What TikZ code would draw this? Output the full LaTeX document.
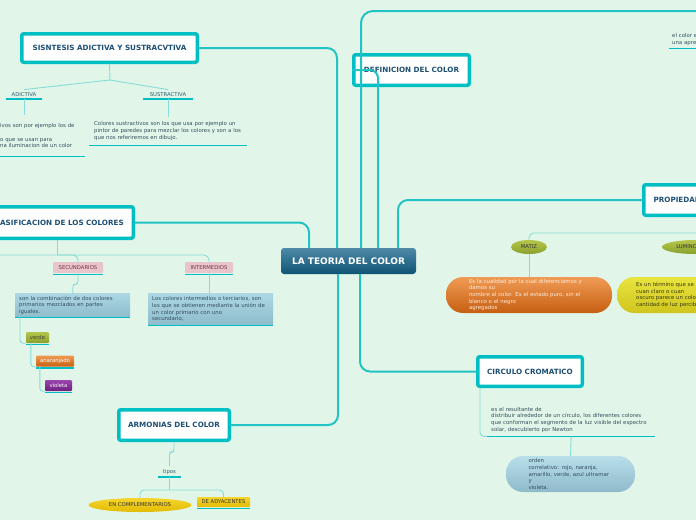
\documentclass[tikz,border=0pt]{standalone}
\usepackage{fontspec}
\setmainfont{DejaVu Sans}
\usetikzlibrary{shapes.geometric}

\definecolor{bgmint}{HTML}{E1F6E8}
\definecolor{mapteal}{HTML}{00BFC4}
\definecolor{trunkteal}{HTML}{22C3C5}
\definecolor{twigteal}{HTML}{86DCD8}
\definecolor{titleblue}{HTML}{1D4E74}
\definecolor{labelblue}{HTML}{2E5C70}
\definecolor{notegray}{HTML}{34505F}
\definecolor{roottop}{HTML}{4E8AA8}
\definecolor{rootbot}{HTML}{0E5475}
\definecolor{boxtop}{HTML}{ADD8E4}
\definecolor{boxbot}{HTML}{8EBCCB}
\definecolor{pinkbox}{HTML}{E8C4CB}
\definecolor{pinktext}{HTML}{7A3445}
\definecolor{olivetop}{HTML}{B5C64A}
\definecolor{olivebot}{HTML}{8AA12E}
\definecolor{orangetop}{HTML}{F09B55}
\definecolor{orangebot}{HTML}{C65F12}
\definecolor{orangetext}{HTML}{FCEBDB}
\definecolor{yellowtop}{HTML}{E9E43F}
\definecolor{yellowbot}{HTML}{CFC51E}
\definecolor{yellowtext}{HTML}{3A3A12}
\definecolor{goldtop}{HTML}{F6D42A}
\definecolor{goldbot}{HTML}{E2BC05}
\definecolor{violettop}{HTML}{9B45AE}
\definecolor{violetbot}{HTML}{6E1F80}
\definecolor{pilltop}{HTML}{B8DEEA}
\definecolor{pillbot}{HTML}{8FBACA}

\newcommand{\rootfont}{\bfseries\fontsize{9}{10}\selectfont}
\newcommand{\topicfont}{\bfseries\fontsize{7.2}{8}\selectfont}
\newcommand{\notefont}{\fontsize{5.4}{6.7}\selectfont}
\newcommand{\tagfont}{\fontsize{5.3}{6}\selectfont}

\begin{document}
\begin{tikzpicture}[x=1pt,y=-1pt,
    central/.style={rectangle, rounded corners=3pt, minimum width=135, minimum height=26, top color=roottop, bottom color=rootbot, text=white, font=\rootfont, inner sep=0pt},
    topic/.style={rectangle, draw=mapteal, line width=3.5pt, fill=white, rounded corners=2pt, text=titleblue, font=\topicfont, inner sep=0pt},
    trunk/.style={draw=trunkteal, line width=2pt},
    twig/.style={draw=twigteal, line width=0.9pt},
    uline/.style={append after command={(\tikzlastnode.south west) edge[draw=mapteal, line width=1.8pt] (\tikzlastnode.south east)}},
    ulinelow/.style={append after command={([yshift=-1.3pt]\tikzlastnode.south west) edge[draw=mapteal, line width=1.6pt] ([yshift=-1.3pt]\tikzlastnode.south east)}},
    lbl/.style={anchor=south, font=\tagfont, text=labelblue, inner xsep=0pt, inner ysep=2.5pt, uline},
    tag/.style={rectangle, rounded corners=1pt, minimum height=11, inner xsep=2pt, inner ysep=0pt, font=\tagfont, ulinelow},
    note/.style={anchor=north west, align=left, inner xsep=0pt, inner ysep=0pt, font=\notefont, text=notegray, uline},
    infobox/.style={anchor=north west, align=left, top color=boxtop, bottom color=boxbot, inner xsep=4pt, inner ysep=2pt, font=\notefont, text=notegray, uline},
    pill/.style={rectangle, rounded corners=17pt, minimum height=36, inner ysep=1pt, align=left, font=\notefont},
    bubble/.style={ellipse, inner sep=0pt, minimum height=14, font=\tagfont, text=black!80}
]
        % Page and background
        \useasboundingbox (0,0) rectangle (696,520);
        \fill[bgmint] (0,0) rectangle (696,520);
        \clip (0,0) rectangle (696,520);

        % Central topic
        \node[central] (teoria) at (348.5,261) {LA TEORIA DEL COLOR};

        % Main topics
        \node[topic, minimum width=175.5, minimum height=28.5] (sintesis) at (109.5,48) {SISNTESIS ADICTIVA Y SUSTRACVTIVA};
        \node[topic, minimum width=115.5, minimum height=30.5] (definicion) at (411.5,70) {DEFINICION DEL COLOR};
        \node[topic, minimum width=152.5, minimum height=31.5] (clasif) at (57,222.5) {CLASIFICACION DE LOS COLORES};
        \node[topic, minimum width=110.5, minimum height=30.5] (armonias) at (174,425) {ARMONIAS DEL COLOR};
        \node[topic, minimum width=125, minimum height=30.5, anchor=west] (propiedades) at (642,200) {PROPIEDADES DEL COLOR};
        \node[topic, minimum width=104.5, minimum height=29.5] (circulo) at (530,371.5) {CIRCULO CROMATICO};
        \coordinate (offtopic) at (720,11);

        % Trunks out of the central topic
        \draw[trunk, rounded corners=10] ([xshift=-39.5]teoria.north) |- (clasif.east);
        \draw[trunk, rounded corners=10] ([xshift=-11.5]teoria.north) |- (sintesis.east);
        \draw[trunk, rounded corners=12] ([xshift=12.5]teoria.north) |- (offtopic);
        \draw[trunk, rounded corners=8] ([xshift=29.5]teoria.north) |- (definicion.west);
        \draw[trunk, rounded corners=10] ([xshift=49.5]teoria.north) |- (propiedades.west);
        \draw[trunk, rounded corners=10] ([xshift=-10.5]teoria.south) |- (armonias.east);
        \draw[trunk, rounded corners=10] ([xshift=11.5]teoria.south) |- (circulo.west);

        % Sintesis: adictiva and sustractiva
        \node[lbl, minimum width=36] (adictiva) at (24,99) {ADICTIVA};
        \node[lbl, minimum width=50] (sustractiva) at (168,99) {SUSTRACTIVA};
        \coordinate (sisfork) at (110,80);
        \draw[twig] (sintesis.south) -- (sisfork) -- (adictiva.north);
        \draw[twig] (sisfork) -- (sustractiva.north);
        \node[note, text width=85, minimum height=41] (adtxt) at (0,115) {ivos son por ejemplo los de\\[6.7pt] o que se usan para\\ na iluminacion de un color};
        \node[note, inner xsep=5pt, text width=148, minimum height=28] (sustxt) at (89,117) {Colores sustractivos son los que usa por ejemplo un\\ pintor de paredes para mezclar los colores y son a los\\ que nos referiremos en dibujo.};
        \draw[twig] (adictiva.south) -- (adictiva.south |- adtxt.north);
        \draw[twig] (sustractiva.south) -- (sustractiva.south |- sustxt.north);

        % Clasificacion: secundarios and intermedios
        \node[tag, fill=pinkbox, text=pinktext, minimum width=50] (secundarios) at (78,267.5) {SECUNDARIOS};
        \node[tag, fill=pinkbox, text=pinktext, minimum width=48] (intermedios) at (209,267.5) {INTERMEDIOS};
        \coordinate (clasbus) at (57,255);
        \coordinate (clasleft) at (-20,255);
        \draw[twig] (clasif.south) -- (clasbus);
        \draw[twig, rounded corners=5] (clasleft) -| (secundarios.north);
        \draw[twig, rounded corners=5] (clasbus) -| (intermedios.north);
        \node[infobox, text width=107, minimum height=24] (secbox) at (15,293) {son la combinación de dos colores\\ primarios mezclados en partes\\ iguales.};
        \node[infobox, text width=117, minimum height=32] (intbox) at (148,293) {Los colores intermedios o terciarios, son\\ los que se obtienen mediante la unión de\\ un color primario con uno\\ secundario,};
        \draw[twig, rounded corners=3] (secundarios.south) -- ++(0,11) -| (secbox.north);
        \draw[twig] (intermedios.south) -- (intermedios.south |- intbox.north);

        % the three secundarios
        \node[tag, top color=olivetop, bottom color=olivebot, text=black!75, minimum width=23] (verde) at (37.5,337.5) {verde};
        \node[tag, top color=orangetop, bottom color=orangebot, text=white, minimum width=38] (anaranjado) at (55,361) {anaranjado};
        \node[tag, top color=violettop, bottom color=violetbot, text=white, minimum width=27] (violeta) at (58.5,385.5) {violeta};
        \draw[twig, rounded corners=3] ([xshift=5]secbox.south west) |- (verde.south west);
        \draw[twig, rounded corners=3] ([xshift=5]verde.south west) |- (anaranjado.south west);
        \draw[twig, rounded corners=3] ([xshift=4]anaranjado.south west) |- (violeta.south west);

        % Armonias: tipos
        \node[lbl, minimum width=23] (tipos) at (169.5,477) {tipos};
        \draw[twig, rounded corners=3] (armonias.south) -- ++(0,10) -| (tipos.north);
        \node[bubble, top color=goldtop, bottom color=goldbot, minimum width=103] (complement) at (140,505) {EN COMPLEMENTARIOS};
        \node[tag, top color=goldtop, bottom color=goldbot, text=black!80, minimum width=53, minimum height=10] (adyacentes) at (223.5,502) {DE ADYACENTES};
        \coordinate (tipbus) at (169.5,490);
        \draw[twig] (tipos.south) -- (tipbus);
        \draw[twig, rounded corners=4] (tipbus) -| (complement.north);
        \draw[twig, rounded corners=4] (tipbus) -| (adyacentes.north);

        % Propiedades: matiz and luminosidad
        \node[bubble, top color=olivetop, bottom color=olivebot, minimum width=36] (matiz) at (529,247) {MATIZ};
        \node[bubble, top color=olivetop, bottom color=olivebot, minimum width=66] (luminosidad) at (695,247) {LUMINOSIDAD};
        \coordinate (propbus) at (720,233);
        \draw[twig] (propiedades.south) -- (propiedades.south |- propbus);
        \draw[twig, rounded corners=5] (matiz.north) |- (propbus);
        \node[pill, top color=orangetop, bottom color=orangebot, text=orangetext, minimum width=166, text width=120] (matizpill) at (529,295) {Es la cualidad por la cual diferenciamos y\\ damos su\\ nombre al color. Es el estado puro, sin el\\ blanco o el negro\\ agregados};
        \node[pill, top color=yellowtop, bottom color=yellowbot, text=yellowtext, minimum width=160, text width=122, anchor=west] (lumpill) at (617,295) {Es un término que se refiere a\\ cuan claro o cuan\\ oscuro parece un color, o la\\ cantidad de luz percibida};
        \draw[twig] (matiz.south) -- (matizpill.north);

        % Circulo cromatico
        \node[note, inner xsep=4pt, text width=160, minimum height=33] (circtxt) at (487,403) {es el resultante de\\ distribuir alrededor de un círculo, los diferentes colores\\ que conforman el segmento de la luz visible del espectro\\ solar, descubierto por Newton};
        \draw[twig, rounded corners=4] ([xshift=4]circulo.south west) |- (circtxt.south west);
        \node[pill, top color=pilltop, bottom color=pillbot, text=notegray, minimum width=129, text width=84] (ordenpill) at (570.5,474) {orden\\ correlativo: rojo, naranja,\\ amarillo, verde, azul ultramar\\ y\\ violeta.};
        \draw[twig] (circtxt.south) -- (ordenpill.north);

        % Definicion: note at the top right
        \node[note, inner xsep=3pt, text width=60, minimum height=18] (elcolor) at (669,30) {el color es\\ una apreciación};
\end{tikzpicture}
\end{document}
